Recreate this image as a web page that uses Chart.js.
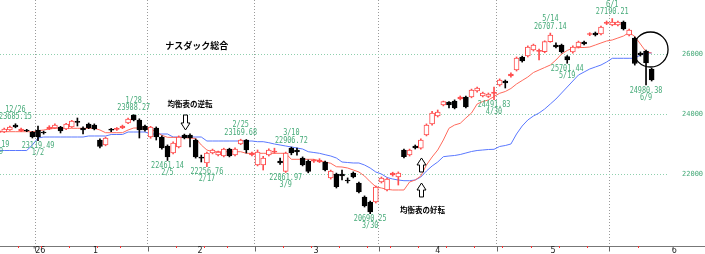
<!DOCTYPE html>
<html><head><meta charset="utf-8">
<script src="https://cdn.jsdelivr.net/npm/chart.js@4/dist/chart.umd.min.js"></script>
<style>html,body{margin:0;padding:0;background:#fff;overflow:hidden}canvas{display:block}</style>
</head><body>
<canvas id="c" width="705" height="254"></canvas>
<script>
// ---- categories (trading days) ----
const dates = ['12/22','12/23','12/24','12/26','12/29','12/30','12/31',
'1/2','1/5','1/6','1/7','1/8','1/9','1/12','1/13','1/14','1/15','1/16','1/20','1/21','1/22','1/23','1/26','1/27','1/28','1/29','1/30',
'2/2','2/3','2/4','2/5','2/6','2/9','2/10','2/11','2/12','2/13','2/17','2/18','2/19','2/20','2/23','2/24','2/25','2/26','2/27',
'3/2','3/3','3/4','3/5','3/6','3/9','3/10','3/11','3/12','3/13','3/16','3/17','3/18','3/19','3/20','3/23','3/24','3/25','3/26','3/27','3/30','3/31',
'4/1','4/2','4/6','4/7','4/8','4/9','4/10','4/13','4/14','4/15','4/16','4/17','4/20','4/21','4/22','4/23','4/24','4/27','4/28','4/29','4/30',
'5/1','5/4','5/5','5/6','5/7','5/8','5/11','5/12','5/13','5/14','5/15','5/18','5/19','5/20','5/21','5/22','5/26','5/27','5/28','5/29',
'6/1','6/2','6/3','6/4','6/5','6/8','6/9','6/10'];

// ---- OHLC ----
const open = [23400,
23410,23477,23643,23443,23477,23410,
23477,23410,23510,23543,23577,23510,23577,23750,23543,23677,23643,
23143,22977,23490,23500,23543,23710,23977,23810,23610,
23243,23543,23243,22943,22710,22910,23310,23310,23143,22560,
22377,22710,22643,22610,22843,22643,23010,23143,22643,
22310,22310,22643,22740,22440,22095,22877,22810,22543,22443,
22440,22410,22410,21877,22010,22010,21800,22043,21710,21243,
21077,21077,
21743,21477,21977,21910,22810,22643,22943,22870,23310,23677,23943,24310,
24410,24443,24510,24577,24577,24777,24610,24593,24700,
24977,25110,25277,25477,25910,25943,26143,26100,26087,26420,
26310,26310,25920,26077,26243,26410,26660,26710,26677,27030,
26977,26977,27077,26643,26543,26043,26110,25510];
const high = [23480,
23540,23610,23685.15,23540,23500,23430,
23610,23440,23620,23680,23600,23700,23800,23877,23580,23710,23680,
23180,23240,23530,23560,23640,23870,23988.27,23850,23640,
23600,23580,23280,22980,23080,23280,23340,23350,23180,22640,
22740,22840,22770,22870,22870,22880,23169.68,23160,22740,
22810,22600,22850,22870,22540,22740,22906.72,22870,22580,22480,
22500,22520,22440,22140,22040,22143,21880,22080,21740,21280,
21110,21610,
21910,21870,22070,22080,22840,22840,22977,23180,23680,24100,24143,24440,
24420,24480,24610,24610,24840,24910,24740,24710,24910,
25180,25143,25380,25910,25940,26280,26340,26170,26450,26707.14,
26380,26340,25960,26280,26440,26440,26720,26743,26940,27110,
27190.21,27110,27110,26840,26580,26080,26140,25540];
const low = [23380,
23390,23460,23550,23420,23420,23210,
23119.49,23340,23490,23520,23377,23490,23560,23610,23343,23520,23480,
22880,22950,23420,23460,23520,23690,23780,23210,23440,
23200,23143,22840,22461.14,22680,22880,23180,22910,22540,22410,
22256.76,22680,22610,22580,22580,22610,22990,22710,22610,
22280,22143,22610,22700,22330,22061.97,22650,22640,22280,22050,
22400,22390,22110,21840,21543,21810,21710,21880,21380,20910,
20690.25,21043,
21710,21443,21940,21643,22550,22610,22843,22840,23280,23640,23910,24280,
24210,24180,24480,24210,24550,24740,24580,24560,24491.83,
24940,24877,25240,25443,25740,25910,26110,25810,26050,26400,
26210,26043,25701.44,26040,26210,26310,26620,26610,26650,26990,
26950,26950,26810,26610,25640,25940,24980.38,25110];
const close = [23450,
23510,23577,23577,23510,23443,23243,
23243,23377,23577,23643,23443,23677,23777,23730,23477,23543,23510,
22927,23210,23470,23520,23610,23843,23810,23477,23477,
23577,23243,22877,22577,23043,23243,23210,23210,22577,22540,
22710,22810,22743,22843,22610,22843,23143,22810,22700,
22743,22543,22810,22760,22377,22710,22710,22743,22310,22095,
22460,22477,22143,22110,21587,21943,21777,21910,21410,20943,
20743,21577,
21877,21843,22043,22043,22587,22810,22877,23143,23643,24043,24077,24420,
24310,24210,24577,24243,24810,24877,24710,24677,24740,
25143,25043,25343,25877,25777,26243,26310,26130,26420,26643,
26243,26087,25810,26243,26410,26343,26680,26643,26910,27050,
27077,27077,26843,26810,25693,25977,25710,25143];

// ---- Ichimoku lines ----
const tenkan = [23420,23420,23420,23420,23420,23420,23420,
23453,23477,23510,23533,23533,23533,23533,23533,23533,23533,23533,
23477,23387,23387,23387,23387,23477,23543,23543,23543,
23510,23420,23300,23233,23230,23230,23230,23200,23200,22977,
22810,22753,22753,22753,22753,22753,22753,22700,22700,
22700,22700,22700,22700,22700,22700,22500,22500,22500,22500,
22500,22453,22410,22367,22253,22243,22210,22143,22077,21943,
21753,21587,
21543,21500,21477,21477,21477,21743,21810,21943,22310,22577,22810,23143,
23534,23643,23700,23877,24043,24343,24427,24477,24593,
24700,24760,24860,25010,25127,25243,25393,25477,25560,25643,
25810,26010,26127,26210,26227,26227,26243,26310,26377,26443,
26477,26543,26610,26727,26593,26343,26087,26043];
const kijun = [22793,22793,22793,22793,22793,22793,22977,
23210,23243,23243,23243,23243,23243,23243,23243,23243,23277,23277,
23277,23277,23327,23327,23327,23410,23410,23410,23410,
23343,23343,23343,23343,23243,23243,23243,23243,23243,23243,
23110,23110,23110,23110,23110,23110,23110,23110,23110,
23087,23087,23053,23010,22977,22943,22910,22877,22843,22753,
22727,22700,22653,22610,22543,22410,22393,22377,22377,22310,
22210,22077,
22010,21893,21843,21810,21787,21787,21810,21910,22110,22277,22410,22587,
22610,22627,22660,22710,22760,22793,22810,22827,22833,
22927,22960,23010,23343,23610,23810,23943,24043,24177,24343,
24510,24710,24910,25110,25310,25410,25510,25577,25643,25743,
25867,25867,25867,25867,25867,25977,26043,26043];

// ---- tick labels ----
const yTicks = [22000, 24000, 26000];
const monthLabels = ["'26", '1', '2', '3', '4', '5', '6'];
const monthLabelAt = [7.2, 17.2, 35.8, 56.4, 78, 98.5, 120];

// ---- marked highs / lows ----
const markers = [
  {d:'12/19', at:-1, v:23159.19, side:'lo'},
  {d:'12/26', v:23685.15, side:'hi'},
  {d:'1/2',  v:23119.49, side:'lo'},
  {d:'1/28', v:23988.27, side:'hi'},
  {d:'2/5',  v:22461.14, side:'lo'},
  {d:'2/17', v:22256.76, side:'lo'},
  {d:'2/25', v:23169.68, side:'hi'},
  {d:'3/9',  v:22061.97, side:'lo'},
  {d:'3/10', v:22906.72, side:'hi'},
  {d:'3/30', v:20690.25, side:'lo'},
  {d:'4/30', v:24491.83, side:'lo'},
  {d:'5/14', v:26707.14, side:'hi'},
  {d:'5/19', v:25701.44, side:'lo'},
  {d:'6/1',  v:27190.21, side:'hi'},
  {d:'6/9',  v:24980.38, side:'lo'}
];
const notes = [
  {text:'ナスダック総合', at:35.2, v:26277, size:9},
  {text:'均衡表の逆転', at:34.0, v:24344, size:7.5},
  {text:'均衡表の好転', at:75.3, v:20811, size:7.5}
];
const arrows = [
  {at:33.1, tip:23477, tail:23977},
  {at:75.0, tip:22544, tail:22077},
  {at:75.0, tip:21710, tail:21244}
];
const circle = {at:115.8, v:26160, r:17.5};

// ---- derived helpers ----
const RED = '#ff4e4e', BLACK = '#000', LINE_RED = '#ff6a5c', BLUE = '#5a78ff', GREEN = '#45aa78';
const idx = dates.map((_, i) => i);
const parseD = s => { const [m, d] = s.split('/').map(Number); return new Date(m === 12 ? 2025 : 2026, m - 1, d); };
const monthBounds = [];
const weekBounds = [];
const ref = new Date(2025, 11, 22);
for (let i = 1; i < dates.length; i++) {
  const a = parseD(dates[i - 1]), b = parseD(dates[i]);
  if (a.getMonth() !== b.getMonth()) monthBounds.push(i - 0.5);
  else {
    const wa = Math.floor(Math.round((a - ref) / 864e5) / 7), wb = Math.floor(Math.round((b - ref) / 864e5) / 7);
    if (wa !== wb) weekBounds.push(i - 0.5);
  }
}
const xTicks = [...monthBounds.map(v => ({value:v, kind:'b', txt:''})),
                ...monthLabelAt.map((v, k) => ({value:v, kind:'l', txt:monthLabels[k]}))].sort((a, b) => a.value - b.value);

const up = i => close[i] > open[i];
const colorOf = i => up(i) ? RED : BLACK;

const annot = {
  id: 'annot',
  afterDraw(chart) {
    const {ctx, chartArea: ca, scales: {x, y}} = chart;
    const X = v => x.getPixelForValue(v), Y = v => y.getPixelForValue(v);
    const axisY = Math.round(ca.bottom) + 0.5;
    ctx.save();
    // axis extension to the right edge
    ctx.strokeStyle = '#777'; ctx.lineWidth = 1;
    ctx.beginPath(); ctx.moveTo(ca.right, axisY); ctx.lineTo(chart.width, axisY); ctx.stroke();
    // month ticks
    ctx.strokeStyle = '#666';
    monthBounds.forEach(b => { const px = Math.round(X(b)) + 0.5; ctx.beginPath(); ctx.moveTo(px, axisY); ctx.lineTo(px, axisY + 5); ctx.stroke(); });
    // weekly red marks
    ctx.fillStyle = '#ff3030';
    weekBounds.forEach(b => { ctx.fillRect(Math.round(X(b)), Math.round(ca.bottom), 1, 2); });
    // markers
    ctx.fillStyle = GREEN; ctx.textAlign = 'center'; ctx.textBaseline = 'middle';
    ctx.font = '8.5px "DejaVu Sans Mono"';
    const txt = (s, cx, cy) => { ctx.save(); ctx.translate(cx, cy); ctx.scale(0.8, 1); ctx.fillText(s, 0, 0); ctx.restore(); };
    markers.forEach(m => {
      const i = m.at !== undefined ? m.at : dates.indexOf(m.d);
      const px = X(i), py = Y(m.v);
      const val = m.v.toFixed(2);
      if (m.side === 'hi') { txt(val, px, py - 6.5); txt(m.d, px, py - 14); }
      else { txt(val, px, py + 5.5); txt(m.d, px, py + 12.5); }
    });
    // notes
    ctx.fillStyle = '#000';
    notes.forEach(n => {
      ctx.font = 'bold ' + n.size + 'px "Noto Sans CJK JP"';
      ctx.fillText(n.text, X(n.at), Y(n.v));
    });
    // hollow arrows
    ctx.lineWidth = 1; ctx.strokeStyle = '#000'; ctx.fillStyle = '#fff';
    arrows.forEach(a => {
      const cx = Math.round(X(a.at)) + 0.5, ty = Y(a.tip), by = Y(a.tail);
      const dir = by > ty ? 1 : -1;
      const head = 7 * dir;
      ctx.beginPath();
      ctx.moveTo(cx, ty);
      ctx.lineTo(cx + 4.5, ty + head);
      ctx.lineTo(cx + 2, ty + head);
      ctx.lineTo(cx + 2, by);
      ctx.lineTo(cx - 2, by);
      ctx.lineTo(cx - 2, ty + head);
      ctx.lineTo(cx - 4.5, ty + head);
      ctx.closePath();
      ctx.fill(); ctx.stroke();
    });
    // circle
    ctx.lineWidth = 1.3; ctx.strokeStyle = '#000';
    ctx.beginPath(); ctx.arc(X(circle.at), Y(circle.v), circle.r, 0, Math.PI * 2); ctx.stroke();
    ctx.restore();
  }
};

new Chart(document.getElementById('c'), {
  type: 'bar',
  data: {
    datasets: [
      {type:'line', label:'転換線', data: idx.map(i => ({x:i, y:tenkan[i]})), borderColor: LINE_RED, borderWidth: 1, pointRadius: 0, tension: 0, order: 3},
      {type:'line', label:'基準線', data: idx.map(i => ({x:i, y:kijun[i]})), borderColor: BLUE, borderWidth: 1, pointRadius: 0, tension: 0, order: 4},
      {type:'bar', label:'wick', data: idx.map(i => ({x:i, y:[low[i], high[i]]})), backgroundColor: idx.map(colorOf),
       borderWidth: 0, barThickness: 1, grouped: false, order: 2},
      {type:'bar', label:'body', data: idx.map(i => ({x:i, y:[open[i], close[i]]})),
       backgroundColor: idx.map(i => (Math.abs(close[i] - open[i]) < 70 || !up(i)) ? colorOf(i) : '#fff'),
       borderColor: idx.map(colorOf), borderWidth: 1, borderSkipped: false, barThickness: 5, minBarLength: 1, grouped: false, order: 1}
    ]
  },
  options: {
    responsive: false, animation: false, devicePixelRatio: 1,
    layout: {padding: 0},
    plugins: {legend: {display: false}, tooltip: {enabled: false}},
    scales: {
      x: {
        type: 'linear', min: 0.25, max: 119.08, bounds: 'data', offset: false,
        afterBuildTicks: s => { s.ticks = xTicks.map(t => ({...t})); },
        afterFit: s => { s.height = 8; s.paddingLeft = 0; s.paddingRight = 0; },
        grid: {offset: false, drawTicks: false, lineWidth: 1, color: c => (c.tick && c.tick.kind === 'b') ? '#9a9a9a' : 'rgba(0,0,0,0)'},
        border: {display: true, color: '#777', width: 1, dash: [1, 2]},
        ticks: {autoSkip: false, maxRotation: 0, minRotation: 0, padding: 0, color: '#222',
                font: {size: 8, family: 'DejaVu Sans'},
                callback: (v, i, ticks) => ticks[i].txt}
      },
      y: {
        type: 'linear', position: 'right', min: 19610, max: 27810, bounds: 'data',
        afterBuildTicks: s => { s.ticks = yTicks.map(v => ({value: v})); },
        afterFit: s => { s.width = 36; s.paddingTop = 0; s.paddingBottom = 0; },
        grid: {drawTicks: false, color: '#8fd0ae', lineWidth: 1},
        border: {display: false, dash: [1, 2]},
        ticks: {padding: 13, color: GREEN, font: {size: 7, family: 'DejaVu Sans Mono'}, callback: v => String(v)}
      }
    }
  },
  plugins: [annot]
});
</script>
</body></html>
